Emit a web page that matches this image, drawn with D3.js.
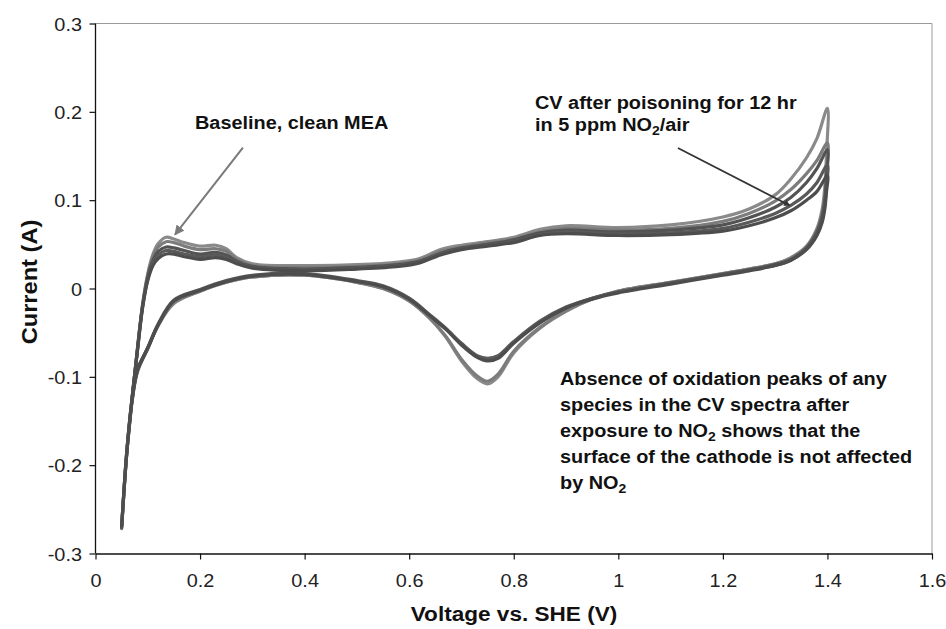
<!DOCTYPE html>
<html>
<head>
<meta charset="utf-8">
<script src="https://cdn.jsdelivr.net/npm/d3@7"></script>
<style>
  html, body { margin: 0; padding: 0; background: #ffffff; }
  svg { display: block; font-family: "Liberation Sans", Arial, sans-serif; }
</style>
</head>
<body>
<svg id="chart" width="946" height="629"></svg>
<script>
// ---------- data ----------
const xTicks = [0, 0.2, 0.4, 0.6, 0.8, 1, 1.2, 1.4, 1.6];
const xTickLabels = ["0", "0.2", "0.4", "0.6", "0.8", "1", "1.2", "1.4", "1.6"];
const yTicks = [-0.3, -0.2, -0.1, 0, 0.1, 0.2, 0.3];
const yTickLabels = ["-0.3", "-0.2", "-0.1", "0", "0.1", "0.2", "0.3"];

// forward (anodic) sweep voltages
const vForward = [0.05, 0.055, 0.06, 0.07, 0.08, 0.09, 0.1, 0.11, 0.12, 0.135, 0.15, 0.17, 0.2, 0.23, 0.25, 0.27, 0.3, 0.4, 0.5, 0.58, 0.62, 0.66, 0.7, 0.75, 0.8, 0.85, 0.9, 1.0, 1.1, 1.2, 1.25, 1.3, 1.33, 1.36, 1.38, 1.4];
// reverse (cathodic) sweep voltages
const vReverse = [1.4, 1.398, 1.395, 1.39, 1.38, 1.36, 1.33, 1.3, 1.25, 1.2, 1.1, 1.0, 0.95, 0.9, 0.85, 0.8, 0.77, 0.75, 0.73, 0.7, 0.67, 0.64, 0.6, 0.55, 0.5, 0.4, 0.3, 0.25, 0.2, 0.15, 0.12, 0.1, 0.08, 0.07, 0.06, 0.05];

// Baseline (clean MEA) cycles
const baseline1Forward = [-0.272, -0.226, -0.186, -0.126, -0.07, -0.018, 0.017, 0.039, 0.051, 0.058, 0.056, 0.052, 0.048, 0.049, 0.045, 0.035, 0.028, 0.026, 0.027, 0.03, 0.034, 0.044, 0.049, 0.053, 0.058, 0.067, 0.071, 0.069, 0.072, 0.081, 0.09, 0.106, 0.124, 0.148, 0.17, 0.204];
const baseline1Reverse = [0.204, 0.15, 0.115, 0.09, 0.068, 0.048, 0.035, 0.028, 0.022, 0.017, 0.007, -0.003, -0.012, -0.026, -0.045, -0.073, -0.1, -0.108, -0.102, -0.082, -0.055, -0.034, -0.014, 0.0, 0.007, 0.015, 0.013, 0.007, -0.003, -0.017, -0.042, -0.068, -0.095, -0.128, -0.186, -0.272];
const baseline2Forward = [-0.27, -0.224, -0.184, -0.124, -0.069, -0.019, 0.015, 0.036, 0.047, 0.053, 0.052, 0.048, 0.044, 0.045, 0.042, 0.033, 0.026, 0.024, 0.025, 0.028, 0.032, 0.042, 0.047, 0.052, 0.056, 0.064, 0.068, 0.066, 0.068, 0.076, 0.085, 0.099, 0.112, 0.13, 0.145, 0.165];
const baseline2Reverse = [0.165, 0.13, 0.105, 0.085, 0.066, 0.047, 0.034, 0.028, 0.022, 0.017, 0.007, -0.003, -0.012, -0.025, -0.044, -0.071, -0.097, -0.105, -0.099, -0.08, -0.054, -0.034, -0.014, 0.0, 0.007, 0.015, 0.013, 0.007, -0.003, -0.016, -0.041, -0.067, -0.094, -0.127, -0.185, -0.27];

// After poisoning for 12 hr in 5 ppm NO2/air
const poisoned1Forward = [-0.271, -0.225, -0.185, -0.125, -0.07, -0.02, 0.013, 0.032, 0.042, 0.047, 0.046, 0.043, 0.039, 0.041, 0.038, 0.031, 0.025, 0.022, 0.024, 0.027, 0.031, 0.04, 0.046, 0.05, 0.055, 0.063, 0.066, 0.064, 0.066, 0.072, 0.08, 0.092, 0.103, 0.12, 0.136, 0.157];
const poisoned1Reverse = [0.157, 0.125, 0.1, 0.082, 0.064, 0.046, 0.033, 0.027, 0.021, 0.016, 0.006, -0.004, -0.011, -0.022, -0.038, -0.061, -0.077, -0.08, -0.077, -0.063, -0.046, -0.031, -0.012, 0.002, 0.008, 0.016, 0.014, 0.008, -0.002, -0.014, -0.041, -0.068, -0.093, -0.126, -0.185, -0.271];
const poisoned2Forward = [-0.27, -0.224, -0.184, -0.124, -0.071, -0.021, 0.011, 0.029, 0.038, 0.043, 0.042, 0.039, 0.036, 0.038, 0.035, 0.029, 0.024, 0.021, 0.023, 0.026, 0.03, 0.039, 0.045, 0.049, 0.053, 0.061, 0.064, 0.062, 0.063, 0.068, 0.075, 0.085, 0.094, 0.107, 0.12, 0.14];
const poisoned2Reverse = [0.14, 0.115, 0.095, 0.078, 0.062, 0.045, 0.032, 0.026, 0.021, 0.016, 0.006, -0.004, -0.011, -0.021, -0.037, -0.06, -0.076, -0.079, -0.076, -0.062, -0.045, -0.03, -0.011, 0.003, 0.009, 0.017, 0.015, 0.009, -0.001, -0.013, -0.04, -0.067, -0.092, -0.125, -0.184, -0.27];
const poisoned3Forward = [-0.269, -0.223, -0.183, -0.123, -0.072, -0.022, 0.009, 0.026, 0.034, 0.039, 0.039, 0.036, 0.033, 0.035, 0.033, 0.028, 0.023, 0.02, 0.022, 0.025, 0.029, 0.038, 0.044, 0.048, 0.052, 0.06, 0.062, 0.06, 0.061, 0.065, 0.071, 0.08, 0.088, 0.1, 0.11, 0.128];
const poisoned3Reverse = [0.128, 0.108, 0.09, 0.075, 0.06, 0.044, 0.032, 0.026, 0.02, 0.015, 0.005, -0.005, -0.012, -0.022, -0.039, -0.062, -0.079, -0.082, -0.078, -0.064, -0.046, -0.031, -0.012, 0.002, 0.008, 0.016, 0.014, 0.008, -0.002, -0.014, -0.041, -0.067, -0.093, -0.126, -0.185, -0.269];

const seriesNames = ["Baseline 1", "Baseline 2", "Poisoned 1", "Poisoned 2", "Poisoned 3"];
const seriesColors = ["#8a8a8a", "#7c7c7c", "#535353", "#595959", "#4d4d4d"];

// ---------- build ----------
const cycles = [
  { name: seriesNames[0], color: seriesColors[0], fwd: baseline1Forward, rev: baseline1Reverse },
  { name: seriesNames[1], color: seriesColors[1], fwd: baseline2Forward, rev: baseline2Reverse },
  { name: seriesNames[2], color: seriesColors[2], fwd: poisoned1Forward, rev: poisoned1Reverse },
  { name: seriesNames[3], color: seriesColors[3], fwd: poisoned2Forward, rev: poisoned2Reverse },
  { name: seriesNames[4], color: seriesColors[4], fwd: poisoned3Forward, rev: poisoned3Reverse }
];

const svg = d3.select("#chart");
const X0 = 95.5, X1 = 932, Y0 = 553.5, Y1 = 23.5;
const SX = 1.075; // horizontal stretch of the original typography

const x = d3.scaleLinear().domain([0, 1.6]).range([X0, X1]);
const y = d3.scaleLinear().domain([-0.3, 0.3]).range([Y0, Y1]);

// plot frame (top & right light lines)
svg.append("line").attr("x1", X0).attr("x2", X1).attr("y1", Y1).attr("y2", Y1)
  .attr("stroke", "#9a9a9a").attr("stroke-width", 1);
svg.append("line").attr("x1", X1).attr("x2", X1).attr("y1", Y1).attr("y2", Y0)
  .attr("stroke", "#9a9a9a").attr("stroke-width", 1);

// curves
const line = d3.line()
  .x(d => x(d[0]))
  .y(d => y(d[1]))
  .curve(d3.curveCatmullRom.alpha(0.5));

const gCurves = svg.append("g");
cycles.forEach(c => {
  const pts = vForward.map((v, i) => [v, c.fwd[i]])
    .concat(vReverse.slice(1).map((v, i) => [v, c.rev[i + 1]]));
  gCurves.append("path")
    .datum(pts)
    .attr("d", line)
    .attr("fill", "none")
    .attr("stroke", c.color)
    .attr("stroke-width", 3.2)
    .attr("stroke-linejoin", "round")
    .attr("stroke-linecap", "round");
});

// axes
const xAxis = d3.axisBottom(x).tickValues(xTicks)
  .tickFormat((d, i) => xTickLabels[i]).tickSize(6).tickSizeOuter(0);
const yAxis = d3.axisLeft(y).tickValues(yTicks)
  .tickFormat((d, i) => yTickLabels[i]).tickSize(6).tickSizeOuter(0);

const gx = svg.append("g").attr("transform", `translate(0,${Y0})`).call(xAxis);
const gy = svg.append("g").attr("transform", `translate(${X0},0)`).call(yAxis);

[gx, gy].forEach(g => {
  g.select(".domain").attr("stroke", "#111").attr("stroke-width", 1.3);
  g.selectAll(".tick line").attr("stroke", "#111").attr("stroke-width", 1.2);
  g.selectAll(".tick text").attr("fill", "#222")
    .style("font-family", "'Liberation Sans', Arial, sans-serif")
    .style("font-size", "18.5px");
});
gx.selectAll(".tick text").attr("y", 33.5).attr("dy", 0)
  .attr("transform", `scale(${SX},1)`);
gy.selectAll(".tick text").attr("x", -13.5 / SX).attr("dy", "0.36em")
  .attr("transform", `scale(${SX},1)`);
gy.select(".domain").attr("d", `M0,${Y0}V${Y1}`);

// helper for stretched text
function stretchedText(px, py, size, weight, anchor) {
  return svg.append("text")
    .attr("transform", `translate(${px},${py}) scale(${SX},1)`)
    .attr("text-anchor", anchor || "start")
    .style("font-size", size + "px")
    .style("font-weight", weight)
    .attr("fill", "#111");
}

// axis titles
stretchedText(514, 621, 21, "bold", "middle").text("Voltage vs. SHE (V)");
svg.append("text")
  .attr("transform", `translate(37,282) rotate(-90) scale(${SX},1)`)
  .attr("text-anchor", "middle")
  .style("font-size", "22px").style("font-weight", "bold")
  .attr("fill", "#111").text("Current (A)");

// arrowheads
const defs = svg.append("defs");
defs.append("marker").attr("id", "arrGray").attr("viewBox", "0 0 10 10")
  .attr("refX", 9).attr("refY", 5).attr("markerWidth", 5).attr("markerHeight", 5)
  .attr("orient", "auto").append("path").attr("d", "M0,0L10,5L0,10z").attr("fill", "#7a7a7a");
defs.append("marker").attr("id", "arrDark").attr("viewBox", "0 0 10 10")
  .attr("refX", 9).attr("refY", 5).attr("markerWidth", 3.5).attr("markerHeight", 3.5)
  .attr("orient", "auto").append("path").attr("d", "M0,0L10,5L0,10z").attr("fill", "#333");

// annotation: baseline
stretchedText(195, 129, 18.5, "bold").text("Baseline, clean MEA");
svg.append("line")
  .attr("x1", x(0.282)).attr("y1", y(0.1595))
  .attr("x2", x(0.152)).attr("y2", y(0.0610))
  .attr("stroke", "#7a7a7a").attr("stroke-width", 2)
  .attr("marker-end", "url(#arrGray)");

// annotation: poisoning
stretchedText(535, 109, 18.5, "bold").text("CV after poisoning for 12 hr");
const t2 = stretchedText(535, 131, 18.5, "bold");
t2.append("tspan").text("in 5 ppm NO");
t2.append("tspan").attr("dy", 4).style("font-size", "13px").text("2");
t2.append("tspan").attr("dy", -4).text("/air");
svg.append("line")
  .attr("x1", x(1.114)).attr("y1", y(0.159))
  .attr("x2", x(1.328)).attr("y2", y(0.094))
  .attr("stroke", "#333").attr("stroke-width", 1.8)
  .attr("marker-end", "url(#arrDark)");

// annotation: absence text
const para = [
  ["Absence of oxidation peaks of any"],
  ["species in the CV spectra after"],
  ["exposure to NO", "2", " shows that the"],
  ["surface of the cathode is not affected"],
  ["by NO", "2"]
];
para.forEach((parts, li) => {
  const t = stretchedText(560, 385 + li * 26, 18.5, "bold");
  parts.forEach((p, k) => {
    const sp = t.append("tspan").text(p);
    if (k === 1) sp.attr("dy", 4).style("font-size", "13px");
    if (k === 2) sp.attr("dy", -4);
  });
});
</script>
</body>
</html>
